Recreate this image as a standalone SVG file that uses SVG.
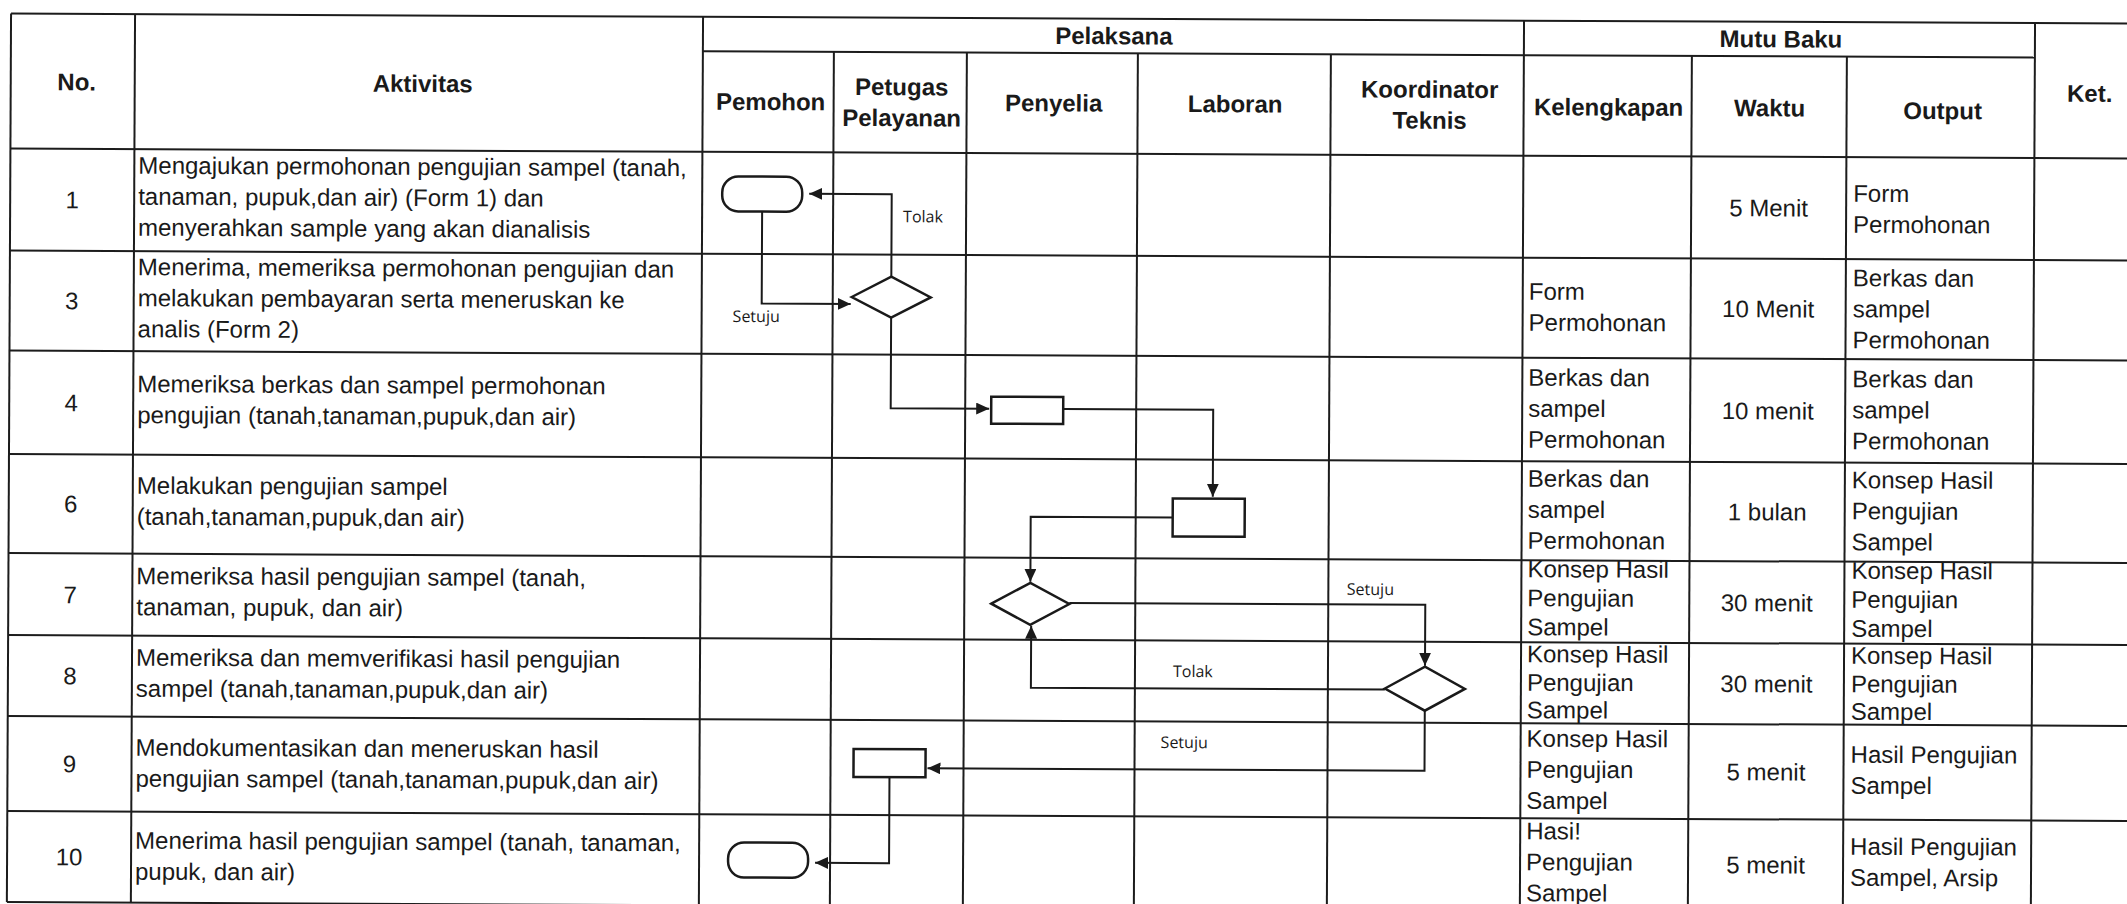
<svg xmlns="http://www.w3.org/2000/svg" width="2127" height="904" viewBox="0 0 2127 904">
<defs>
<style>
.g line{stroke:#1c1c1c;stroke-width:2}
.t{font-family:"Liberation Sans",Arial,sans-serif;font-size:24px;fill:#1a1a1a}
.b{font-weight:bold;text-anchor:middle}
.m{text-anchor:middle}
.lbl{font-family:"Open Sans","DejaVu Sans",sans-serif;font-size:16px;fill:#1a1a1a}
.shape{fill:#fff;stroke:#1a1a1a;stroke-width:2.5}
.conn path{fill:none;stroke:#1a1a1a;stroke-width:2;marker-end:url(#ah)}
</style>
<marker id="ah" markerWidth="13" markerHeight="12" refX="13" refY="6" orient="auto" markerUnits="userSpaceOnUse"><path d="M0,0 L13,6 L0,12 z" fill="#1a1a1a"/></marker>
</defs>
<rect width="2127" height="904" fill="#fff"/>
<g transform="rotate(0.27 1064 452)">
<g class="g" id="grid">
<line x1="9" y1="18.5" x2="2140" y2="18.5"/>
<line x1="701" y1="53" x2="2033" y2="53"/>
<line x1="9" y1="153.5" x2="2140" y2="153.5"/>
<line x1="9" y1="255.5" x2="2140" y2="255.5"/>
<line x1="9" y1="355.5" x2="2140" y2="355.5"/>
<line x1="9" y1="459" x2="2140" y2="459"/>
<line x1="9" y1="558" x2="2140" y2="558"/>
<line x1="9" y1="640" x2="2140" y2="640"/>
<line x1="9" y1="721" x2="2140" y2="721"/>
<line x1="9" y1="816" x2="2140" y2="816"/>
<line x1="9" y1="907" x2="2140" y2="907"/>
<line x1="9" y1="18.5" x2="9" y2="907"/>
<line x1="133" y1="18.5" x2="133" y2="907"/>
<line x1="701" y1="18.5" x2="701" y2="907"/>
<line x1="832" y1="53" x2="832" y2="907"/>
<line x1="965" y1="53" x2="965" y2="907"/>
<line x1="1136" y1="53" x2="1136" y2="907"/>
<line x1="1329" y1="53" x2="1329" y2="907"/>
<line x1="1522" y1="18.5" x2="1522" y2="907"/>
<line x1="1690" y1="53" x2="1690" y2="907"/>
<line x1="1845" y1="53" x2="1845" y2="907"/>
<line x1="2033" y1="18.5" x2="2033" y2="907"/>
</g>
<g id="header">
<text class="t b" x="75" y="95">No.</text>
<text class="t b" x="421" y="95">Aktivitas</text>
<text class="t b" x="1112" y="44">Pelaksana</text>
<text class="t b" x="1779" y="44">Mutu Baku</text>
<text class="t b" x="769" y="111.5">Pemohon</text>
<text class="t b" x="900" y="96">Petugas</text>
<text class="t b" x="900" y="127">Pelayanan</text>
<text class="t b" x="1052" y="111.5">Penyelia</text>
<text class="t b" x="1233.5" y="111.5">Laboran</text>
<text class="t b" x="1428" y="96">Koordinator</text>
<text class="t b" x="1428" y="127">Teknis</text>
<text class="t b" x="1607" y="113">Kelengkapan</text>
<text class="t b" x="1768" y="113">Waktu</text>
<text class="t b" x="1941" y="115">Output</text>
<text class="t b" x="2088" y="97">Ket.</text>
</g>
<g id="numbers">
<text class="t m" x="71" y="213">1</text>
<text class="t m" x="71" y="314">3</text>
<text class="t m" x="71" y="416">4</text>
<text class="t m" x="71" y="517">6</text>
<text class="t m" x="71" y="608">7</text>
<text class="t m" x="71" y="689">8</text>
<text class="t m" x="71" y="777">9</text>
<text class="t m" x="71" y="870">10</text>
</g>
<g id="aktivitas">
<text class="t" x="137" y="178">Mengajukan permohonan pengujian sampel (tanah,</text>
<text class="t" x="137" y="209">tanaman, pupuk,dan air) (Form 1) dan</text>
<text class="t" x="137" y="240">menyerahkan sample yang akan dianalisis</text>
<text class="t" x="137" y="279.5">Menerima, memeriksa permohonan pengujian dan</text>
<text class="t" x="137" y="310.5">melakukan pembayaran serta meneruskan ke</text>
<text class="t" x="137" y="341.5">analis (Form 2)</text>
<text class="t" x="137" y="396.5">Memeriksa berkas dan sampel permohonan</text>
<text class="t" x="137" y="427.5">pengujian (tanah,tanaman,pupuk,dan air)</text>
<text class="t" x="137" y="498">Melakukan pengujian sampel</text>
<text class="t" x="137" y="529">(tanah,tanaman,pupuk,dan air)</text>
<text class="t" x="137" y="588.5">Memeriksa hasil pengujian sampel (tanah,</text>
<text class="t" x="137" y="619.5">tanaman, pupuk, dan air)</text>
<text class="t" x="137" y="670">Memeriksa dan memverifikasi hasil pengujian</text>
<text class="t" x="137" y="701">sampel (tanah,tanaman,pupuk,dan air)</text>
<text class="t" x="137" y="760">Mendokumentasikan dan meneruskan hasil</text>
<text class="t" x="137" y="791">pengujian sampel (tanah,tanaman,pupuk,dan air)</text>
<text class="t" x="137" y="853">Menerima hasil pengujian sampel (tanah, tanaman,</text>
<text class="t" x="137" y="884">pupuk, dan air)</text>
</g>
<g id="kelengkapan">
<text class="t" x="1528" y="297.5">Form</text>
<text class="t" x="1528" y="328.5">Permohonan</text>
<text class="t" x="1528" y="383.5">Berkas dan</text>
<text class="t" x="1528" y="414.5">sampel</text>
<text class="t" x="1528" y="445.5">Permohonan</text>
<text class="t" x="1528" y="484.5">Berkas dan</text>
<text class="t" x="1528" y="515.5">sampel</text>
<text class="t" x="1528" y="546.5">Permohonan</text>
<text class="t" x="1528" y="575">Konsep Hasil</text>
<text class="t" x="1528" y="604">Pengujian</text>
<text class="t" x="1528" y="633">Sampel</text>
<text class="t" x="1528" y="660">Konsep Hasil</text>
<text class="t" x="1528" y="688.5">Pengujian</text>
<text class="t" x="1528" y="716">Sampel</text>
<text class="t" x="1528" y="744.5">Konsep Hasil</text>
<text class="t" x="1528" y="775.5">Pengujian</text>
<text class="t" x="1528" y="806.5">Sampel</text>
<text class="t" x="1528" y="837">Hasi!</text>
<text class="t" x="1528" y="868">Pengujian</text>
<text class="t" x="1528" y="899">Sampel</text>
</g>
<g id="waktu">
<text class="t m" x="1767.5" y="213">5 Menit</text>
<text class="t m" x="1767.5" y="314">10 Menit</text>
<text class="t m" x="1767.5" y="416">10 menit</text>
<text class="t m" x="1767.5" y="517">1 bulan</text>
<text class="t m" x="1767.5" y="608">30 menit</text>
<text class="t m" x="1767.5" y="689">30 menit</text>
<text class="t m" x="1767.5" y="777">5 menit</text>
<text class="t m" x="1767.5" y="870">5 menit</text>
</g>
<g id="output">
<text class="t" x="1852" y="198">Form</text>
<text class="t" x="1852" y="229">Permohonan</text>
<text class="t" x="1852" y="282.5">Berkas dan</text>
<text class="t" x="1852" y="313.5">sampel</text>
<text class="t" x="1852" y="344.5">Permohonan</text>
<text class="t" x="1852" y="383.5">Berkas dan</text>
<text class="t" x="1852" y="414.5">sampel</text>
<text class="t" x="1852" y="445.5">Permohonan</text>
<text class="t" x="1852" y="484.5">Konsep Hasil</text>
<text class="t" x="1852" y="515.5">Pengujian</text>
<text class="t" x="1852" y="546.5">Sampel</text>
<text class="t" x="1852" y="575">Konsep Hasil</text>
<text class="t" x="1852" y="604">Pengujian</text>
<text class="t" x="1852" y="633">Sampel</text>
<text class="t" x="1852" y="660">Konsep Hasil</text>
<text class="t" x="1852" y="688.5">Pengujian</text>
<text class="t" x="1852" y="716">Sampel</text>
<text class="t" x="1852" y="759">Hasil Pengujian</text>
<text class="t" x="1852" y="790">Sampel</text>
<text class="t" x="1852" y="851">Hasil Pengujian</text>
<text class="t" x="1852" y="882">Sampel, Arsip</text>
</g>
<g class="conn" id="connectors">
<path d="M761,213.5 V305 H850"/>
<path d="M890.5,277.5 V195 H808"/>
<path d="M890.5,318.5 V409 H989"/>
<path d="M1063,409 H1213 V496"/>
<path d="M1173,517 H1031 V582"/>
<path d="M1070,603 H1426 V664"/>
<path d="M1386,688 H1032 V626"/>
<path d="M1426,709 V769 H929"/>
<path d="M891,778 V864 H817"/>
</g>
<g id="edge-labels">
<text class="lbl" x="902" y="223">Tolak</text>
<text class="lbl" x="732" y="323.5">Setuju</text>
<text class="lbl" x="1347.5" y="593.5">Setuju</text>
<text class="lbl" x="1174" y="676.5">Tolak</text>
<text class="lbl" x="1162" y="747.5">Setuju</text>
</g>
<g id="term1"><rect class="shape" x="721" y="178" width="80" height="35" rx="16"/></g>
<g id="dec1"><polygon class="shape" points="851,298 890.5,277.5 930,298 890.5,318.5"/></g>
<g id="proc-penyelia"><rect class="shape" x="991" y="397" width="72" height="27"/></g>
<g id="proc-laboran"><rect class="shape" x="1173" y="498" width="72" height="38"/></g>
<g id="dec2"><polygon class="shape" points="992,604 1031,583 1070,604 1031,625"/></g>
<g id="dec3"><polygon class="shape" points="1386,687 1426,665 1466,687 1426,709"/></g>
<g id="proc-petugas"><rect class="shape" x="855" y="750" width="72" height="28"/></g>
<g id="term2"><rect class="shape" x="730" y="844" width="80" height="35" rx="16"/></g>
</g>
</svg>
